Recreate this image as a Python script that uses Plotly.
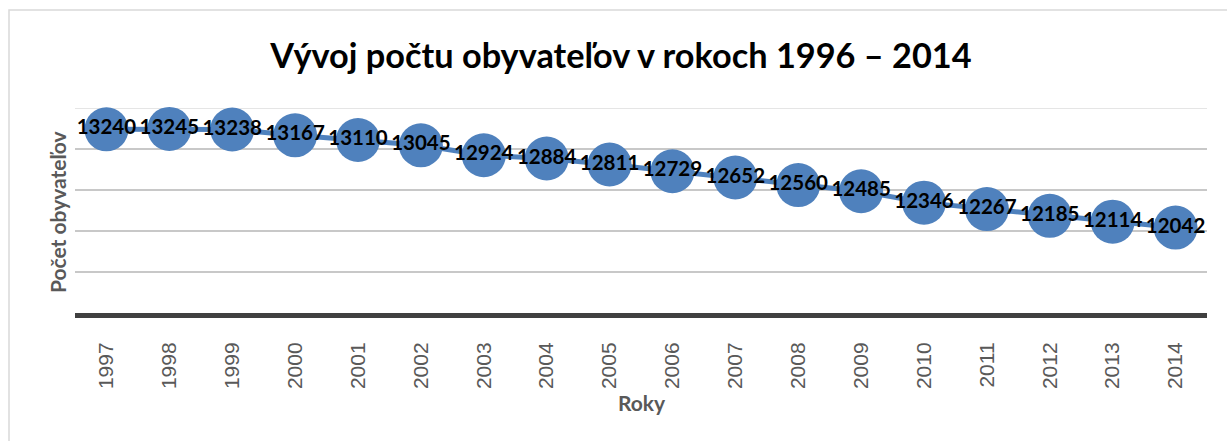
import plotly.graph_objects as go

years = ["1997", "1998", "1999", "2000", "2001", "2002", "2003", "2004", "2005",
         "2006", "2007", "2008", "2009", "2010", "2011", "2012", "2013", "2014"]
population = [13240, 13245, 13238, 13167, 13110, 13045, 12924, 12884, 12811,
              12729, 12652, 12560, 12485, 12346, 12267, 12185, 12114, 12042]

title_text = "Vývoj počtu obyvateľov v rokoch 1996 – 2014"
x_title = "Roky"
y_title = "Počet obyvateľov"

y_min, y_max, y_step = 11000, 13500, 500

W, H = 1227, 441
L, R, T, B = 75, 20, 108, 128
pw = W - L - R
ph = H - T - B

def px_x(p):
    return (p - L) / pw

def px_y(p):
    return (H - B - p) / ph

fig = go.Figure()
fig.add_trace(go.Scatter(
    x=years, y=population,
    mode="lines+markers+text",
    line=dict(color="#4f81bd", width=5),
    marker=dict(color="#4f81bd", size=44),
    text=[str(v) for v in population],
    textposition="middle center",
    textfont=dict(family="Lato", size=20.5, color="#000000", weight="bold"),
    cliponaxis=False,
    hoverinfo="x+y",
))

fig.update_layout(
    width=W, height=H,
    margin=dict(l=L, r=R, t=T, b=B, pad=0),
    paper_bgcolor="white",
    plot_bgcolor="white",
    showlegend=False,
    title=dict(text=title_text, x=(621) / W, xanchor="center",
               y=1 - 56 / H, yanchor="middle",
               font=dict(family="Lato", size=34.3, color="#000000", weight="bold")),
    xaxis=dict(
        type="category",
        range=[-0.5, len(years) - 0.5],
        showgrid=False,
        showline=True, linecolor="#404040", linewidth=5,
        tickangle=-90,
        ticks="",
        ticklabelstandoff=16,
        tickfont=dict(family="Liberation Sans", size=21, color="#595959"),
    ),
    yaxis=dict(
        range=[y_min, y_max],
        dtick=y_step,
        showgrid=True, gridcolor="#c8c8c8", gridwidth=1.5,
        showticklabels=False,
        showline=False,
        zeroline=False,
        ticks="",
    ),
    annotations=[
        dict(text=y_title, xref="paper", yref="paper",
             x=px_x(57), y=px_y(212), xanchor="center", yanchor="middle",
             textangle=-90, showarrow=False,
             font=dict(family="Lato", size=21, color="#595959", weight="bold")),
        dict(text=x_title, xref="paper", yref="paper",
             x=px_x(642), y=px_y(402), xanchor="center", yanchor="middle",
             showarrow=False,
             font=dict(family="Lato", size=21, color="#595959", weight="bold")),
    ],
    shapes=[
        dict(type="rect", xref="paper", yref="paper",
             x0=px_x(9), x1=px_x(1260), y0=px_y(10), y1=px_y(470),
             line=dict(color="#d9d9d9", width=1.5), fillcolor="rgba(0,0,0,0)",
             layer="below"),
        dict(type="line", xref="paper", yref="y",
             x0=0, x1=1, y0=y_max, y1=y_max,
             line=dict(color="#dcdcdc", width=1.5), layer="below"),
    ],
)

fig.write_html("out.html",
               config={"displayModeBar": False},
               post_script="document.body.style.margin='0';document.body.style.padding='0';")
